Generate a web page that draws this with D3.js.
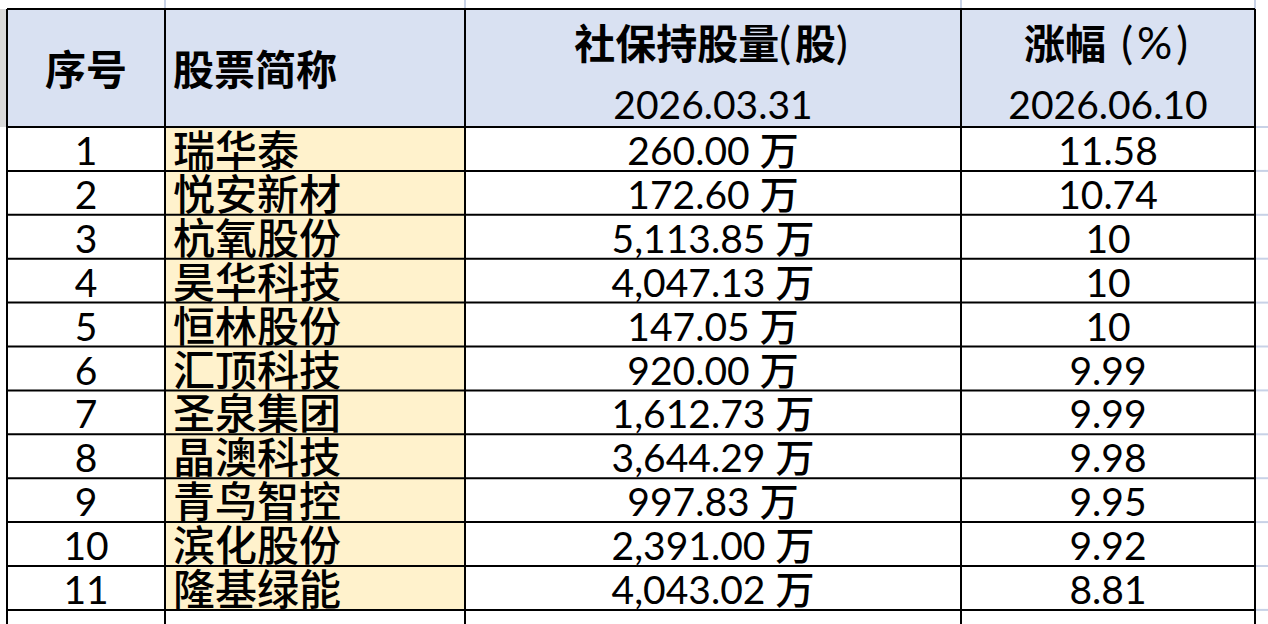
<!DOCTYPE html>
<html>
<head>
<meta charset="utf-8">
<script src="https://cdn.jsdelivr.net/npm/d3@7"></script>
<style>
  html, body { margin: 0; padding: 0; background: #fff; }
  svg { display: block; }
  text { font-family: Lato, "Noto Sans CJK SC", sans-serif; fill: #000; }
</style>
</head>
<body>
<svg id="chart" width="1268" height="624"></svg>
<script>
// table data
const seqNo = [1, 2, 3, 4, 5, 6, 7, 8, 9, 10, 11];
const stockNames = ['瑞华泰', '悦安新材', '杭氧股份', '昊华科技', '恒林股份', '汇顶科技',
  '圣泉集团', '晶澳科技', '青鸟智控', '滨化股份', '隆基绿能'];
const holdings = [260.00, 172.60, 5113.85, 4047.13, 147.05, 920.00, 1612.73, 3644.29, 997.83, 2391.00, 4043.02];
const changes = [11.58, 10.74, 10, 10, 10, 9.99, 9.99, 9.98, 9.95, 9.92, 8.81];
const headerLine1 = ['序号', '股票简称', '社保持股量(股)', '涨幅 (%)'];
const headerLine2 = ['', '', '2026.03.31', '2026.06.10'];

// layout
const W = 1268, H = 624;
const colEdges = [7, 165, 465, 961, 1255];
const tableTop = 9, headBottom = 127, rowH = 43.9;
const headFill = '#D9E1F2', nameFill = '#FFF2CC', gridLight = '#C8D2E6';

const svg = d3.select('#chart');
const fmt = d3.format(',.2f');

const nRows = seqNo.length;
const y = d3.scaleLinear().domain([0, 1]).range([headBottom, headBottom + rowH]);

// light spreadsheet gridlines outside the table
const gl = svg.append('g').attr('stroke', gridLight).attr('stroke-width', 2);
gl.selectAll('line.v').data(colEdges.slice(1)).join('line')
  .attr('x1', d => d).attr('x2', d => d).attr('y1', 0).attr('y2', tableTop);
gl.selectAll('line.h').data(d3.range(0, nRows + 2)).join('line')
  .attr('x1', colEdges[4]).attr('x2', W).attr('y1', d => y(d)).attr('y2', d => y(d));

// grey sliver at the left of the header
svg.append('rect').attr('x', 0).attr('y', tableTop).attr('width', colEdges[0]).attr('height', headBottom - tableTop)
  .attr('fill', '#D9D9D9');

// header background
svg.append('rect').attr('x', colEdges[0]).attr('y', tableTop)
  .attr('width', colEdges[4] - colEdges[0]).attr('height', headBottom - tableTop).attr('fill', headFill);

// name column fill
svg.append('g').selectAll('rect').data(stockNames).join('rect')
  .attr('x', colEdges[1]).attr('y', (d, i) => y(i))
  .attr('width', colEdges[2] - colEdges[1]).attr('height', rowH).attr('fill', nameFill);

// black borders
const bl = svg.append('g').attr('stroke', '#000').attr('stroke-width', 2);
bl.selectAll('line.h').data([tableTop].concat(d3.range(0, nRows + 1).map(i => y(i)))).join('line')
  .attr('x1', colEdges[0]).attr('x2', colEdges[4]).attr('y1', d => d).attr('y2', d => d);
bl.selectAll('line.v').data(colEdges).join('line')
  .attr('x1', d => d).attr('x2', d => d).attr('y1', tableTop).attr('y2', H);

// split a string into CJK and non-CJK runs so header CJK can be bold
function runs(str) {
  return str.match(/[\u4e00-\u9fff]+|[^\u4e00-\u9fff]+/g) || [];
}
function addText(sel, str, header) {
  runs(str).forEach(r => {
    const cjk = /[\u4e00-\u9fff]/.test(r);
    const ts = sel.append('tspan').text(r)
      .attr('font-weight', cjk && header ? 700 : (cjk ? 500 : 400));
    if (header && !cjk) ts.attr('font-size', 44).attr('letter-spacing', 4);
  });
}

const colMid = i => (colEdges[i] + colEdges[i + 1]) / 2;

// header text
const hd = svg.append('g');
headerLine1.forEach((h, i) => {
  const two = headerLine2[i] !== '';
  const t = hd.append('text')
    .attr('x', i === 1 ? colEdges[1] + 8 : colMid(i))
    .attr('y', two ? 59 : 85)
    .attr('text-anchor', i === 1 ? 'start' : 'middle')
    .attr('font-size', 41);
  addText(t, h, true);
  if (two) {
    hd.append('text').attr('x', colMid(i)).attr('y', 119)
      .attr('text-anchor', 'middle').attr('font-size', 39).text(headerLine2[i]);
  }
});

// body
const body = svg.append('g');
const rows = body.selectAll('g').data(seqNo).join('g')
  .attr('transform', (d, i) => `translate(0,${y(i) + 38})`);

rows.append('text').attr('x', colMid(0)).attr('text-anchor', 'middle')
  .attr('font-size', 39).text(d => d);

rows.append('text').attr('x', colEdges[1] + 8).attr('y', 1).attr('font-size', 42)
  .attr('font-weight', 500).text((d, i) => stockNames[i]);

rows.append('text').attr('x', colMid(2)).attr('text-anchor', 'middle').attr('font-size', 39)
  .each(function(d, i) { addText(d3.select(this), fmt(holdings[i]) + ' 万', false); });

rows.append('text').attr('x', colMid(3)).attr('text-anchor', 'middle')
  .attr('font-size', 39).text((d, i) => String(changes[i]));
</script>
</body>
</html>
